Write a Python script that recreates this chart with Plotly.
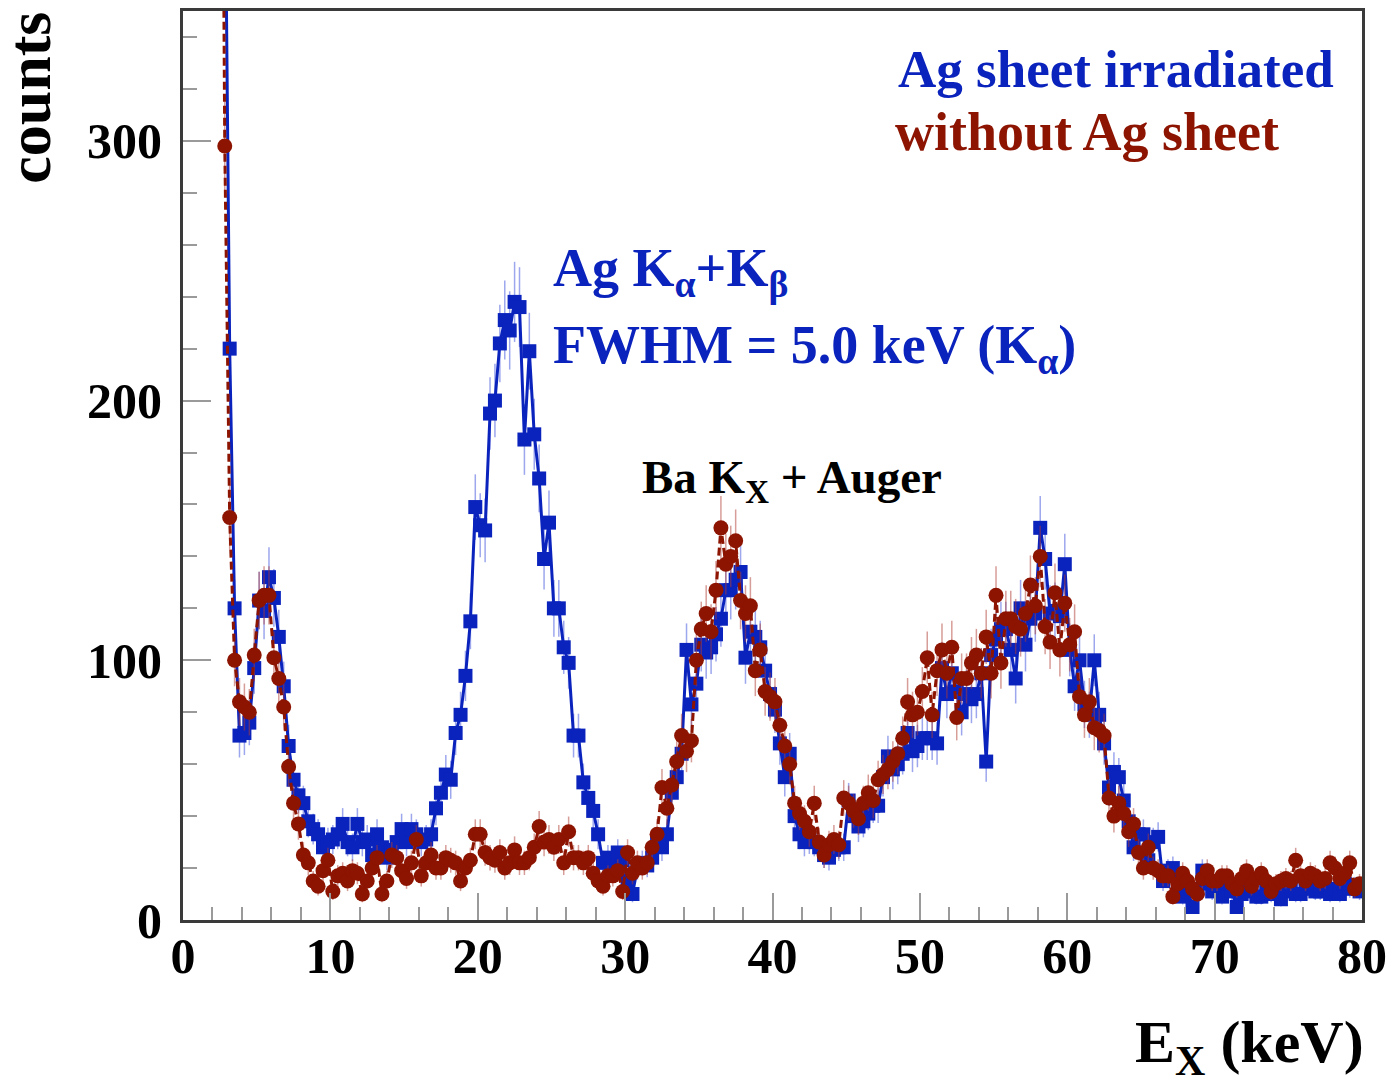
import numpy as np
import plotly.graph_objects as go

# Spectra are histograms with 1/3 keV bins; the first stored bin has index 7.
BIN_WIDTH = 1.0 / 3.0
FIRST_BIN = 7

# Counts per bin, Ag sheet in the beam
counts_ag_sheet = [
    700, 420, 220, 120, 71,
    72, 76, 97, 123, 119, 132, 124, 109, 90, 67, 54, 48,
    45, 38, 35, 33, 28, 30, 31, 33, 37, 30, 28, 37,
    30, 31, 25, 33, 28, 24, 27, 30, 35, 30, 35, 33,
    30, 31, 33, 43, 49, 56, 54, 72, 79, 94, 115, 159,
    152, 150, 195, 200, 222, 231, 227, 238, 236, 185, 219, 187,
    170, 139, 153, 120, 120, 105, 99, 71, 71, 53, 47, 42,
    33, 22, 24, 20, 26, 23, 15, 10, 20, 22, 21, 24,
    30, 28, 33, 49, 55, 64, 104, 83, 91, 106, 103, 105,
    110, 116, 127, 127, 131, 134, 101, 111, 109, 105, 96, 87,
    81, 68, 55, 64, 40, 33, 30, 31, 30, 28, 25, 24,
    27, 28, 28, 46, 40, 36, 38, 41, 44, 44, 55, 63,
    58, 60, 64, 72, 65, 67, 70, 70, 70, 68, 97, 87,
    95, 88, 80, 87, 85, 87, 95, 61, 102, 108, 112, 112,
    104, 93, 120, 106, 116, 118, 151, 139, 118, 119, 117, 137,
    104, 90, 100, 83, 79, 100, 79, 68, 51, 57, 55, 46,
    38, 28, 33, 33, 23, 30, 32, 15, 19, 20, 14, 9,
    12, 5, 12, 19, 14, 11, 12, 9, 14, 11, 5, 10,
    13, 11, 9, 9, 12, 10, 12, 8, 11, 13, 10, 10,
    12, 14, 11, 11, 13, 10, 12, 10, 14, 12, 13, 11,
]

# Counts per bin, no Ag sheet
counts_no_sheet = [
    600, 298, 155, 100, 84,
    82, 80, 102, 123, 125, 125, 101, 93, 82, 59, 45, 37,
    25, 22, 15, 13, 19, 23, 11, 17, 18, 15, 19, 18,
    10, 15, 20, 24, 10, 15, 25, 24, 19, 16, 22, 31,
    17, 22, 25, 20, 20, 24, 23, 22, 15, 20, 23, 33,
    33, 26, 24, 23, 26, 20, 22, 27, 22, 22, 24, 28,
    36, 30, 31, 28, 31, 22, 34, 24, 24, 22, 24, 18,
    15, 13, 17, 17, 19, 11, 26, 18, 22, 20, 22, 28,
    33, 51, 43, 52, 61, 71, 65, 69, 100, 112, 118, 111,
    127, 151, 137, 140, 146, 123, 118, 121, 96, 104, 88, 86,
    84, 75, 67, 60, 45, 41, 38, 34, 45, 30, 25, 29,
    31, 29, 47, 45, 42, 39, 45, 49, 46, 54, 56, 58,
    61, 64, 70, 84, 79, 80, 88, 101, 79, 96, 104, 95,
    105, 78, 93, 93, 99, 102, 95, 109, 95, 125, 99, 116,
    116, 113, 112, 118, 129, 121, 140, 113, 107, 126, 104, 122,
    106, 111, 86, 79, 84, 74, 73, 71, 47, 40, 45, 41,
    34, 37, 26, 20, 28, 20, 19, 17, 17, 9, 14, 18,
    15, 12, 10, 16, 19, 15, 15, 17, 17, 14, 12, 16,
    19, 13, 16, 18, 15, 11, 14, 15, 16, 15, 23, 17,
    15, 18, 17, 15, 16, 22, 20, 16, 18, 22, 12, 14,
]

x_ticks = [0, 10, 20, 30, 40, 50, 60, 70, 80]
y_ticks = [0, 100, 200, 300]

BLUE = "#0b23bd"
RED = "#8c1400"
SERIF = "Liberation Serif, Times New Roman, serif"

# Bin centres in keV
energy = (np.arange(FIRST_BIN, FIRST_BIN + len(counts_ag_sheet)) + 0.5) * BIN_WIDTH
ag = np.array(counts_ag_sheet, dtype=float)
bg = np.array(counts_no_sheet, dtype=float)

fig = go.Figure()

fig.add_trace(go.Scatter(
    x=energy, y=ag, mode="lines+markers", name="Ag sheet irradiated",
    line=dict(color=BLUE, width=3),
    marker=dict(symbol="square", size=14, color=BLUE),
    error_y=dict(type="data", array=np.sqrt(ag), color="rgba(60,80,220,0.5)",
                 thickness=1.5, width=0),
))

fig.add_trace(go.Scatter(
    x=energy, y=bg, mode="lines+markers", name="without Ag sheet",
    line=dict(color=RED, width=3, dash="8px,4px"),
    marker=dict(symbol="circle", size=15, color=RED),
    error_y=dict(type="data", array=np.sqrt(bg), color="rgba(175,60,50,0.5)",
                 thickness=1.5, width=0),
))

tick_font = dict(family=SERIF, size=50, color="black", weight="bold")

fig.update_xaxes(
    range=[0, 80], tickmode="array", tickvals=x_ticks,
    ticks="inside", ticklen=27, tickwidth=2, tickcolor="#9a9a9a",
    minor=dict(tick0=0, dtick=2, ticks="inside", ticklen=13, tickwidth=2,
               tickcolor="#9a9a9a"),
    showline=True, linecolor="#3a3a3a", linewidth=3, mirror=True,
    showgrid=False, zeroline=False, tickfont=tick_font, ticklabelstandoff=-10,
)
fig.update_yaxes(
    range=[0, 350], tickmode="array", tickvals=y_ticks,
    ticks="inside", ticklen=28, tickwidth=2, tickcolor="#9a9a9a",
    minor=dict(tick0=0, dtick=20, ticks="inside", ticklen=14, tickwidth=2,
               tickcolor="#9a9a9a"),
    showline=True, linecolor="#3a3a3a", linewidth=3, mirror=True,
    showgrid=False, zeroline=False, tickfont=tick_font, ticklabelstandoff=8,
)

L, R, T, B = 183, 27, 8, 165
W, H = 1395, 1085
PW, PH = W - L - R, H - T - B


def px(xp):
    return (xp - L) / PW


def py(yp):
    return (H - B - yp) / PH


def note(text, x, y, xanchor, yanchor, size, color, angle=0):
    return dict(text=text, xref="paper", yref="paper", x=x, y=y,
                xanchor=xanchor, yanchor=yanchor, showarrow=False,
                textangle=angle,
                font=dict(family=SERIF, size=size, color=color, weight="bold"))


annotations = [
    note("Ag sheet irradiated", px(1342), py(66), "right", "middle", 53, BLUE),
    note("without Ag sheet", px(897), py(129), "left", "middle", 54, RED),
    note("Ag K<sub>α</sub>+K<sub>β</sub>", px(553), py(269), "left", "middle", 54, BLUE),
    note("FWHM = 5.0 keV (K<sub>α</sub>)", px(553), py(347), "left", "middle", 54, BLUE),
    note("Ba K<sub>X</sub> + Auger", px(642), py(479), "left", "middle", 47, "black"),
    note("E<sub>X</sub> (keV)", px(1372), py(1047), "right", "middle", 60, "black"),
    note("counts", px(28), py(7), "center", "top", 62, "black", angle=-90),
]

fig.update_layout(
    width=W, height=H,
    margin=dict(l=L, r=R, t=T, b=B),
    paper_bgcolor="white", plot_bgcolor="white",
    showlegend=False,
    annotations=annotations,
)

fig.write_html("out.html")
